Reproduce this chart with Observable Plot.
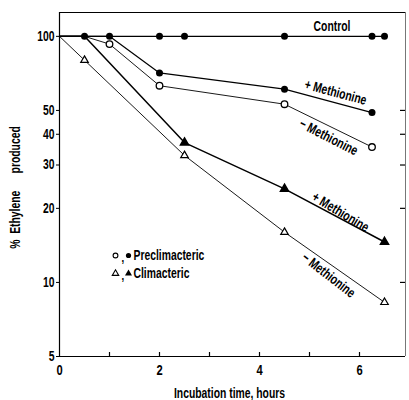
<!DOCTYPE html>
<html><head><meta charset="utf-8">
<script src="https://cdn.jsdelivr.net/npm/d3@7"></script>
<script src="https://cdn.jsdelivr.net/npm/@observablehq/plot@0.6"></script>
<style>
body{margin:0;background:#fff;}
#chart svg{font-family:"Liberation Sans",Arial,sans-serif;font-weight:bold;}
</style></head><body><div id="chart"></div>
<script>
// Data (incubation time in hours, % ethylene produced)
const startTime = 0, startPct = 100;
const controlTime = [0.5, 1, 2, 2.5, 4.5, 6.25, 6.5];
const controlPct = [100, 100, 100, 100, 100, 100, 100];
const preTime = [0.5, 1, 2, 4.5, 6.25];
const prePlusPct = [100, 100, 71, 61, 49];
const preMinusPct = [100, 93, 63, 53, 35.5];
const climTime = [0.5, 2.5, 4.5, 6.5];
const climPlusPct = [100, 37, 24, 14.6];
const climMinusPct = [80, 32.8, 16, 8.3];
const yTicks = [5, 10, 20, 30, 40, 50, 100];
const yInnerTicks = [10, 20, 30, 40, 50];
const xLabels = [0, 2, 4, 6];
const xTicks = [1, 2, 3, 4, 5, 6];
const xMax = 6.92, yMin = 5, yMax = 125;

const series = (t, v) => [{t: startTime, v: startPct}, ...t.map((d, i) => ({t: d, v: v[i]}))];
const control = series(controlTime, controlPct);
const prePlus = series(preTime, prePlusPct);
const preMinus = series(preTime, preMinusPct);
const climPlus = series(climTime, climPlusPct);
const climMinus = series(climTime, climMinusPct);
const notStart = d => d.t > 0 && d.v < 100;

const annotations = [
  {t: 5.45, v: 110, text: "Control", rotate: 0},
  {t: 5.52, v: 59.2, text: "+ Methionine", rotate: 15},
  {t: 5.38, v: 38.9, text: "− Methionine", rotate: 27},
  {t: 5.62, v: 19.3, text: "+ Methionine", rotate: 31},
  {t: 5.38, v: 10.7, text: "− Methionine", rotate: 38}
];

const chart = Plot.plot({
  width: 409, height: 400,
  marginLeft: 59, marginRight: 4, marginTop: 12, marginBottom: 44,
  style: {fontFamily: '"Liberation Sans",Arial,sans-serif', fontWeight: "bold", fontSize: "14px", background: "#fff"},
  x: {domain: [0, xMax]},
  y: {type: "log", domain: [yMin, yMax]},
  marks: [
    Plot.axisY({ticks: yTicks, tickFormat: d => String(d), tickSize: 3, tickPadding: 2, fontSize: 14, label: null, stroke: "#000", color: "#000"}),
    Plot.tickY(yInnerTicks, {y: d => d, insetLeft: 341, stroke: "#000", strokeWidth: 1.2}),
    Plot.axisX({ticks: xLabels, tickFormat: d => String(d), tickSize: 0, tickPadding: 8, fontSize: 15, label: null, color: "#000"}),
    Plot.tickX(xTicks, {x: d => d, insetTop: 340, stroke: "#000", strokeWidth: 1.2}),
    Plot.ruleX([0], {stroke: "#000", strokeWidth: 1.2}),
    Plot.ruleY([yMin], {stroke: "#000", strokeWidth: 1.2}),
    Plot.ruleY([yMax], {stroke: "#000", strokeWidth: 1.2}),
    Plot.ruleX([xMax], {stroke: "#777", strokeWidth: 1}),
    Plot.line(climMinus, {x: "t", y: "v", stroke: "#000", strokeWidth: 0.9}),
    Plot.line(climPlus, {x: "t", y: "v", stroke: "#000", strokeWidth: 1.5}),
    Plot.line(preMinus, {x: "t", y: "v", stroke: "#000", strokeWidth: 0.9}),
    Plot.line(prePlus, {x: "t", y: "v", stroke: "#000", strokeWidth: 1.2}),
    Plot.line(control, {x: "t", y: "v", stroke: "#000", strokeWidth: 1.4}),
    Plot.dot(climMinus.filter(notStart), {x: "t", y: "v", symbol: "triangle", r: 2.8, fill: "#fff", stroke: "#000", strokeWidth: 1.2}),
    Plot.dot(climPlus.filter(notStart), {x: "t", y: "v", symbol: "triangle", r: 3, fill: "#000", stroke: "#000"}),
    Plot.dot(preMinus.filter(notStart), {x: "t", y: "v", r: 3.3, fill: "#fff", stroke: "#000", strokeWidth: 1.3}),
    Plot.dot(prePlus.filter(notStart), {x: "t", y: "v", r: 3.5, fill: "#000"}),
    Plot.dot(control.filter(d => d.t > 0), {x: "t", y: "v", r: 3.5, fill: "#000"}),
    Plot.text(annotations, {x: "t", y: "v", text: "text", rotate: "rotate", fontSize: 14, fill: "#000"}),
    // legend
    Plot.dot([0], {frameAnchor: "top-left", dx: 56, dy: 243, r: 2.4, fill: "#fff", stroke: "#000", strokeWidth: 1.1}),
    Plot.text([","], {frameAnchor: "top-left", lineAnchor: "middle", dx: 62, dy: 245, text: d => d, fontSize: 13, fill: "#000"}),
    Plot.dot([0], {frameAnchor: "top-left", dx: 69, dy: 243, r: 2.6, fill: "#000"}),
    Plot.text(["Preclimacteric"], {frameAnchor: "top-left", lineAnchor: "middle", dx: 74, dy: 243, text: d => d, textAnchor: "start", fontSize: 14, fill: "#000"}),
    Plot.dot([0], {frameAnchor: "top-left", dx: 56, dy: 261, r: 2.4, symbol: "triangle", fill: "#fff", stroke: "#000", strokeWidth: 1.1}),
    Plot.text([","], {frameAnchor: "top-left", lineAnchor: "middle", dx: 62, dy: 263, text: d => d, fontSize: 13, fill: "#000"}),
    Plot.dot([0], {frameAnchor: "top-left", dx: 69, dy: 261, r: 2.6, symbol: "triangle", fill: "#000"}),
    Plot.text(["Climacteric"], {frameAnchor: "top-left", lineAnchor: "middle", dx: 74, dy: 261, text: d => d, textAnchor: "start", fontSize: 14, fill: "#000"}),
    // axis titles
    Plot.text(["%  Ethylene      produced"], {frameAnchor: "left", textAnchor: "middle", lineAnchor: "middle", dx: -44, dy: 3, rotate: -90, text: d => d, fontSize: 14, fill: "#000"}),
    Plot.text(["Incubation time, hours"], {frameAnchor: "bottom", textAnchor: "middle", lineAnchor: "middle", dx: -3, dy: 37, text: d => d, fontSize: 14, fill: "#000"})
  ]
});
document.getElementById("chart").appendChild(chart);
// condensed look: squeeze glyphs horizontally
chart.querySelectorAll("text").forEach(el => {
  if (el.querySelector("tspan")) return;
  const L = el.getComputedTextLength();
  if (L > 0) {
    el.setAttribute("textLength", (L * 0.74).toFixed(1));
    el.setAttribute("lengthAdjust", "spacingAndGlyphs");
  }
});
</script></body></html>
